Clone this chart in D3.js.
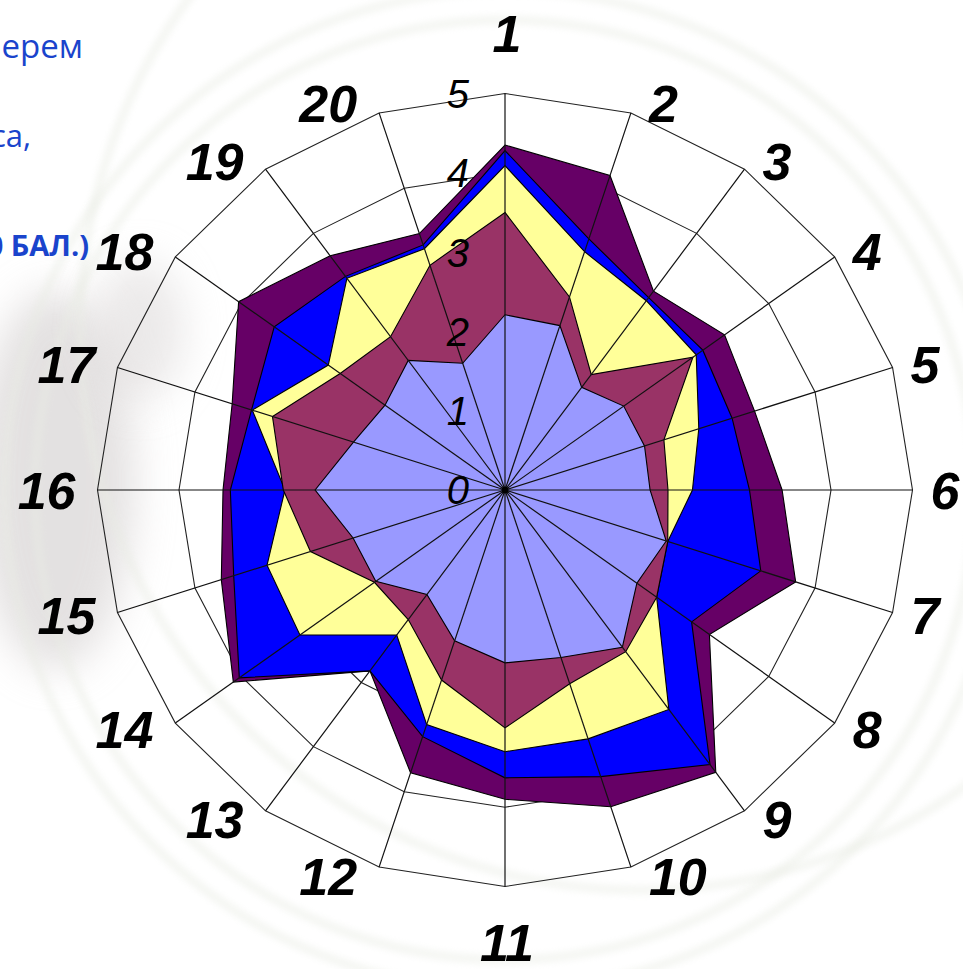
<!DOCTYPE html>
<html>
<head>
<meta charset="utf-8">
<script src="https://cdn.jsdelivr.net/npm/d3@7/dist/d3.min.js"></script>
<style>
  html, body { margin: 0; padding: 0; background: #ffffff; overflow: hidden; }
  svg { display: block; }
</style>
</head>
<body>
<svg id="chart" width="963" height="969"></svg>
<script>
// ---------- data ----------
const categories = ["1","2","3","4","5","6","7","8","9","10","11","12","13","14","15","16","17","18","19","20"];
const levelTicks = ["0","1","2","3","4","5"];
const seriesPurple   = [4.35,4.17,3.10,3.33,3.22,3.40,3.75,3.10,4.40,4.20,3.90,3.75,2.82,4.12,3.66,3.46,3.52,4.04,3.65,3.40];
const seriesBlue     = [4.28,3.33,3.00,3.00,2.93,3.00,3.30,2.83,4.28,3.80,3.63,3.27,2.82,4.03,3.50,3.37,3.27,3.50,3.33,3.25];
const seriesYellow   = [4.09,3.16,2.95,2.90,2.50,2.30,2.10,2.30,3.42,3.30,3.30,3.11,2.26,3.11,3.07,2.70,3.26,2.68,3.30,3.20];
const seriesMaroon   = [3.50,2.56,1.80,2.85,2.05,2.00,2.10,2.30,2.52,2.57,3.00,2.52,2.02,1.98,2.51,2.72,3.00,2.50,2.39,2.98];
const seriesLavender = [2.21,2.18,1.60,1.80,1.80,1.78,2.08,2.00,2.45,2.22,2.18,2.00,1.63,1.96,1.96,2.33,1.955,1.82,2.02,1.68];
const seriesColors = ["#660066","#0000ff","#ffff99","#993366","#9999ff"];
const bgTextLines = ["ерем","са,","0 БАЛ.)"];

// ---------- setup ----------
const svg = d3.select("#chart");
const cx = 505, cy = 490;
const rX = d3.scaleLinear().domain([0, 5]).range([0, 407.5]);
const rY = d3.scaleLinear().domain([0, 5]).range([0, 396.5]);
const ang = d3.scaleLinear().domain([0, categories.length]).range([0, 2 * Math.PI]);
const pt = (i, v) => [cx + rX(v) * Math.sin(ang(i)), cy - rY(v) * Math.cos(ang(i))];
const maxV = 5;

// ---------- faint background decoration ----------
const defs = svg.append("defs");
defs.append("filter").attr("id", "blur").attr("x", "-50%").attr("y", "-50%").attr("width", "200%").attr("height", "200%")
  .append("feGaussianBlur").attr("stdDeviation", 20);
defs.append("filter").attr("id", "blur2")
  .append("feGaussianBlur").attr("stdDeviation", 3);

const bg = svg.append("g");
bg.append("ellipse").attr("cx", 55).attr("cy", 480).attr("rx", 80).attr("ry", 190)
  .attr("fill", "#d2cece").attr("opacity", 0.6).attr("filter", "url(#blur)");
bg.append("ellipse").attr("cx", 140).attr("cy", 330).attr("rx", 45).attr("ry", 70)
  .attr("fill", "#d8d4d4").attr("opacity", 0.5).attr("filter", "url(#blur)");
[[505, 490, 470], [505, 490, 500], [640, 330, 560]].forEach(([x, y, r]) => {
  bg.append("circle").attr("cx", x).attr("cy", y).attr("r", r)
    .attr("fill", "none").attr("stroke", "#e9ece4").attr("stroke-width", 9)
    .attr("opacity", 0.45).attr("filter", "url(#blur2)");
});

// background slide text fragments (cut by the left edge)
const bgText = svg.append("g").attr("font-family", "'Open Sans', 'Noto Sans', sans-serif").attr("fill", "#1a44cc");
bgText.append("text").attr("x", 83).attr("y", 58).attr("text-anchor", "end").attr("font-size", 33).text(bgTextLines[0]);
bgText.append("text").attr("x", 31).attr("y", 147).attr("text-anchor", "end").attr("font-size", 31).text(bgTextLines[1]);
bgText.append("text").attr("x", 89).attr("y", 256).attr("text-anchor", "end").attr("font-size", 29).attr("font-weight", "bold").text(bgTextLines[2]);

// ---------- grid rings (behind series) ----------
const ringLine = d3.line().curve(d3.curveLinearClosed);
const rings = svg.append("g");
d3.range(1, maxV + 1).forEach(l => {
  rings.append("path")
    .attr("d", ringLine(categories.map((c, i) => pt(i, l))))
    .attr("fill", "none").attr("stroke", "#222").attr("stroke-width", 1.1);
});

// ---------- series areas ----------
const allSeries = [seriesPurple, seriesBlue, seriesYellow, seriesMaroon, seriesLavender];
const areaG = svg.append("g");
allSeries.forEach((s, k) => {
  areaG.append("path")
    .attr("d", ringLine(s.map((v, i) => pt(i, v))))
    .attr("fill", seriesColors[k]).attr("stroke", "#000").attr("stroke-width", 1.1)
    .attr("stroke-linejoin", "miter");
});

// ---------- spokes (on top) ----------
const spokes = svg.append("g");
categories.forEach((c, i) => {
  const [x, y] = pt(i, maxV);
  spokes.append("line").attr("x1", cx).attr("y1", cy).attr("x2", x).attr("y2", y)
    .attr("stroke", "#111").attr("stroke-width", 1.2);
});
spokes.append("circle").attr("cx", cx).attr("cy", cy).attr("r", 3.5).attr("fill", "#000");

// ---------- level tick labels ----------
const tickG = svg.append("g").attr("font-family", "'Liberation Sans', Arial, sans-serif")
  .attr("font-style", "italic").attr("font-size", 40).attr("fill", "#000");
levelTicks.forEach((t, k) => {
  const [, y] = pt(0, +t);
  tickG.append("text").attr("x", cx - 36).attr("y", y).attr("dy", "0.36em")
    .attr("text-anchor", "end").text(t);
});

// ---------- category labels ----------
const catG = svg.append("g").attr("font-family", "'Liberation Sans', Arial, sans-serif")
  .attr("font-style", "italic").attr("font-weight", "bold").attr("font-size", 52).attr("fill", "#000");
categories.forEach((c, i) => {
  const a = ang(i);
  const [vx, vy] = pt(i, maxV);
  const s = Math.sin(a), co = Math.cos(a);
  let x, y, anchor;
  if (Math.abs(s) < 1e-6) {
    anchor = "middle"; x = vx + 2;
    y = co > 0 ? vy - 60 : vy + 56;
  } else if (s > 0) {
    anchor = "start"; x = vx + 18; y = vy - 10 * co;
  } else {
    anchor = "end"; x = vx - 22; y = vy - 10 * co;
  }
  catG.append("text").attr("x", x).attr("y", y).attr("dy", "0.36em")
    .attr("text-anchor", anchor).text(c);
});
</script>
</body>
</html>
